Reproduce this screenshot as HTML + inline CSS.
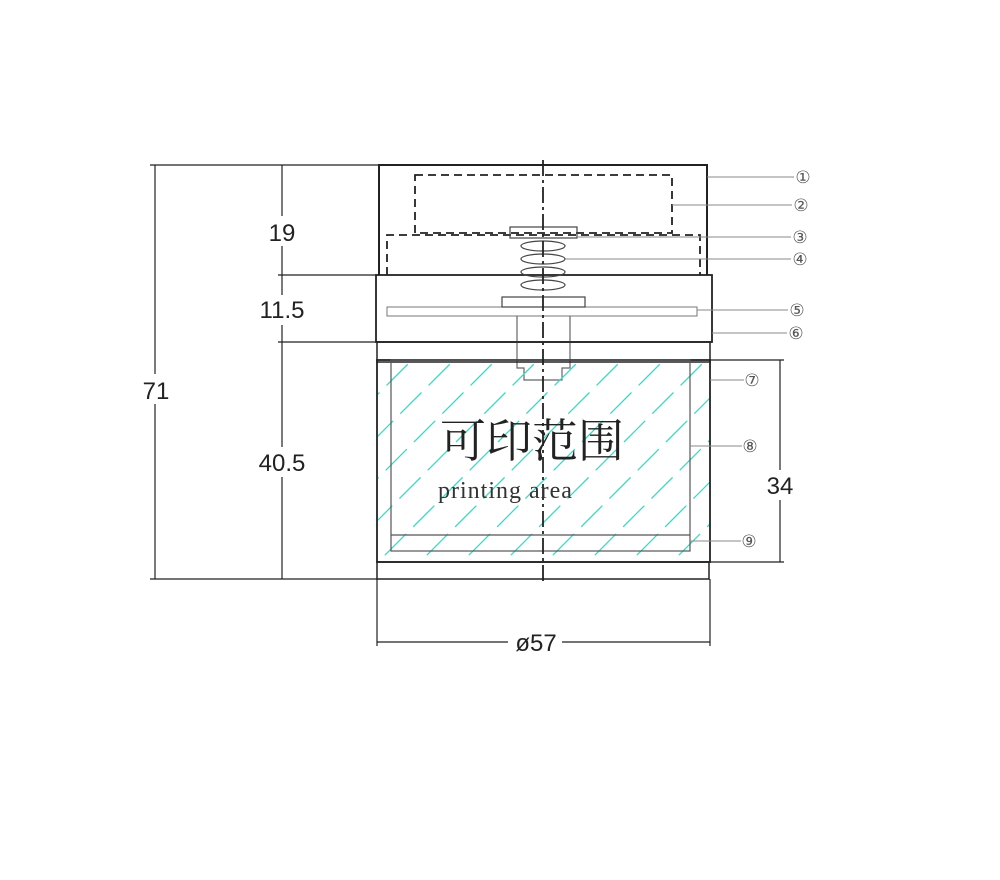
<!DOCTYPE html>
<html><head><meta charset="utf-8"><style>body{margin:0;background:#fff}</style></head><body>
<svg width="1000" height="875" viewBox="0 0 1000 875" xmlns="http://www.w3.org/2000/svg">
<defs>
<clipPath id="c"><rect x="378" y="361" width="332" height="200"/></clipPath>
</defs>
<g stroke="#222" fill="none" stroke-width="1.2">
<line x1="155" y1="165" x2="155" y2="579"/>
<line x1="282" y1="165" x2="282" y2="579"/>
<line x1="150" y1="165" x2="380" y2="165"/>
<line x1="278" y1="275" x2="378" y2="275"/>
<line x1="278" y1="342" x2="378" y2="342"/>
<line x1="150" y1="579" x2="378" y2="579"/>
<path d="M379 275 V165 H707 V275" stroke-width="2"/>
<rect x="415" y="175" width="257" height="58" stroke-dasharray="8,5" stroke-width="1.8"/>
<path d="M387 275 V235 H700 V275" stroke-dasharray="8,5" stroke-width="1.8"/>
<rect x="376" y="275" width="336" height="67" stroke-width="1.8"/>
<rect x="387" y="307" width="310" height="9" stroke="#777" stroke-width="1"/>
<rect x="510" y="227" width="67" height="11" stroke="#444"/>
<rect x="502" y="297" width="83" height="10" stroke="#444"/>
<g stroke="#444">
<ellipse cx="543" cy="246" rx="22" ry="5"/>
<ellipse cx="543" cy="259" rx="22" ry="5"/>
<ellipse cx="543" cy="272" rx="22" ry="5"/>
<ellipse cx="543" cy="285" rx="22" ry="5"/>
</g>
<path d="M517 316 V368 H524 V380 H562 V368 H570 V316" stroke="#666"/>
<rect x="377" y="342" width="333" height="20" stroke-width="1.5"/>
<g clip-path="url(#c)" stroke="#3ad8c8" stroke-width="1.3" stroke-dasharray="30,10">
<line x1="300" y1="640" x2="600" y2="340"/><line x1="342" y1="640" x2="642" y2="340"/>
<line x1="384" y1="640" x2="684" y2="340"/><line x1="426" y1="640" x2="726" y2="340"/>
<line x1="468" y1="640" x2="768" y2="340"/><line x1="510" y1="640" x2="810" y2="340"/>
<line x1="552" y1="640" x2="852" y2="340"/><line x1="594" y1="640" x2="894" y2="340"/>
<line x1="636" y1="640" x2="936" y2="340"/><line x1="258" y1="640" x2="558" y2="340"/>
<line x1="216" y1="640" x2="516" y2="340"/><line x1="174" y1="640" x2="474" y2="340"/>
<line x1="132" y1="640" x2="432" y2="340"/><line x1="90" y1="640" x2="390" y2="340"/>
</g>
<rect x="377" y="360" width="333" height="202" stroke-width="1.8"/>
<rect x="391" y="360" width="299" height="191" stroke="#555"/>
<line x1="391" y1="535" x2="690" y2="535" stroke="#555"/>
<rect x="377" y="562" width="332" height="17" stroke-width="1.5"/>
<line x1="543" y1="160" x2="543" y2="582" stroke-dasharray="16,4,3,4" stroke-width="1.8"/>
<line x1="710" y1="360" x2="784" y2="360"/>
<line x1="710" y1="562" x2="784" y2="562"/>
<line x1="780" y1="360" x2="780" y2="470"/>
<line x1="780" y1="500" x2="780" y2="562"/>
<line x1="377" y1="579" x2="377" y2="646"/>
<line x1="710" y1="579" x2="710" y2="646"/>
<line x1="377" y1="642" x2="508" y2="642"/>
<line x1="562" y1="642" x2="710" y2="642"/>
<g stroke="#888" stroke-width="1">
<line x1="707" y1="177" x2="794" y2="177"/><line x1="672" y1="205" x2="792" y2="205"/>
<line x1="577" y1="237" x2="791" y2="237"/><line x1="565" y1="259" x2="791" y2="259"/>
<line x1="697" y1="310" x2="788" y2="310"/><line x1="712" y1="333" x2="787" y2="333"/>
<line x1="710" y1="380" x2="744" y2="380"/><line x1="690" y1="446" x2="742" y2="446"/>
<line x1="690" y1="541" x2="741" y2="541"/>
</g>
</g>
<g font-family="Liberation Sans, sans-serif" fill="#222">
<rect x="140" y="374" width="30" height="30" fill="#fff"/>
<text x="156" y="399" font-size="24" text-anchor="middle">71</text>
<rect x="262" y="216" width="40" height="30" fill="#fff"/>
<text x="282" y="241" font-size="24" text-anchor="middle">19</text>
<rect x="250" y="295" width="64" height="30" fill="#fff"/>
<text x="282" y="318" font-size="24" text-anchor="middle">11.5</text>
<rect x="250" y="447" width="64" height="30" fill="#fff"/>
<text x="282" y="471" font-size="24" text-anchor="middle">40.5</text>
<text x="780" y="494" font-size="24" text-anchor="middle">34</text>
<text x="536" y="651" font-size="24" text-anchor="middle">ø57</text>
<g font-size="17" fill="#555" text-anchor="middle" font-family="DejaVu Sans, sans-serif">
<text x="803" y="183">①</text><text x="801" y="211">②</text><text x="800" y="243">③</text>
<text x="800" y="265">④</text><text x="797" y="316">⑤</text><text x="796" y="339">⑥</text>
<text x="752" y="386">⑦</text><text x="750" y="452">⑧</text><text x="749" y="547">⑨</text>
</g>
<text x="440" y="457" font-size="46" font-family="Liberation Serif, Noto Serif CJK SC, serif">可印范围</text>
<text x="438" y="498" font-size="24" font-family="Liberation Serif, serif" fill="#333" letter-spacing="1">printing area</text>
</g>
</svg>
</body></html>
